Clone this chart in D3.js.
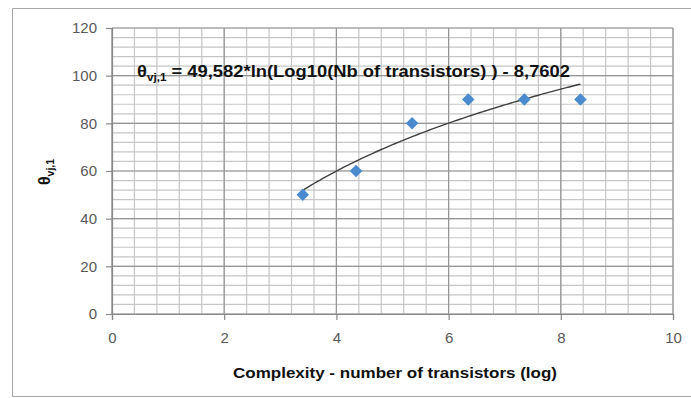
<!DOCTYPE html>
<html>
<head>
<meta charset="utf-8">
<script src="https://cdn.jsdelivr.net/npm/d3@7"></script>
<style>
  body { margin: 0; background: #fff; }
  text { font-family: "Liberation Sans", Arial, sans-serif; }
</style>
</head>
<body>
<svg id="chart" width="691" height="398"></svg>
<script>
  // data
  const xValues = [3.4, 4.35, 5.35, 6.35, 7.35, 8.35];
  const yValues = [50, 60, 80, 90, 90, 90];
  const xTicks = [0, 2, 4, 6, 8, 10];
  const yTicks = [0, 20, 40, 60, 80, 100, 120];
  // trendline coefficients as printed on the chart
  const trendA = 49.582, trendB = -8.7602;
  const trendRange = [3.4, 8.35];

  const svg = d3.select("#chart");
  const W = 691, H = 398;
  const plot = { left: 112, right: 673, top: 28, bottom: 314 };

  const x = d3.scaleLinear().domain([0, 10]).range([plot.left, plot.right]);
  const y = d3.scaleLinear().domain([0, 120]).range([plot.bottom, plot.top]);

  // outer frame
  svg.append("path")
    .attr("d", `M${W},8.5 H12.5 V${H - 1.5} H${W}`)
    .attr("fill", "none").attr("stroke", "#a6a6a6").attr("stroke-width", 1);

  // minor grid
  const grid = svg.append("g");
  d3.range(0, 10.01, 0.4).forEach(v => {
    grid.append("line")
      .attr("x1", x(v)).attr("x2", x(v)).attr("y1", plot.top).attr("y2", plot.bottom)
      .attr("stroke", "#c6c6c6").attr("stroke-width", 1.2);
  });
  d3.range(0, 120.01, 4).forEach(v => {
    grid.append("line")
      .attr("x1", plot.left).attr("x2", plot.right).attr("y1", y(v)).attr("y2", y(v))
      .attr("stroke", "#c6c6c6").attr("stroke-width", 1.2);
  });
  // major grid
  xTicks.forEach(v => {
    grid.append("line")
      .attr("x1", x(v)).attr("x2", x(v)).attr("y1", plot.top).attr("y2", plot.bottom)
      .attr("stroke", "#959595").attr("stroke-width", 1.2);
  });
  yTicks.forEach(v => {
    grid.append("line")
      .attr("x1", plot.left).attr("x2", plot.right).attr("y1", y(v)).attr("y2", y(v))
      .attr("stroke", "#959595").attr("stroke-width", 1.2);
  });

  // axes
  const xAxis = svg.append("g")
    .attr("transform", `translate(0,${plot.bottom})`)
    .call(d3.axisBottom(x).tickValues(xTicks).tickSize(6).tickPadding(12));
  const yAxis = svg.append("g")
    .attr("transform", `translate(${plot.left},0)`)
    .call(d3.axisLeft(y).tickValues(yTicks).tickSize(6).tickPadding(9));
  [xAxis, yAxis].forEach(a => {
    a.selectAll("path, line").attr("stroke", "#888").attr("stroke-width", 1.2);
    a.selectAll("text").attr("fill", "#595959").attr("font-size", 15);
  });

  // trendline
  const trendPts = d3.range(trendRange[0], trendRange[1] + 0.001, 0.05)
    .map(v => [v, trendA * Math.log(v) + trendB]);
  svg.append("path")
    .datum(trendPts)
    .attr("d", d3.line().x(d => x(d[0])).y(d => y(d[1])))
    .attr("fill", "none").attr("stroke", "#404040").attr("stroke-width", 1.4);

  // markers
  svg.append("g").selectAll("path")
    .data(xValues.map((v, i) => [v, yValues[i]]))
    .join("path")
    .attr("transform", d => `translate(${x(d[0])},${y(d[1])})`)
    .attr("d", d3.symbol(d3.symbolDiamond2, 100))
    .attr("fill", "#4a8bd0");

  // equation label
  const eq = svg.append("text")
    .attr("x", 137).attr("y", 77)
    .attr("textLength", 433).attr("lengthAdjust", "spacingAndGlyphs")
    .attr("font-size", 16.5).attr("font-weight", 700).attr("fill", "#111");
  eq.append("tspan").text("θ");
  eq.append("tspan").attr("font-size", 10.5).attr("dy", 4).text("vj,1");
  eq.append("tspan").attr("dy", -4).text(" = 49,582*ln(Log10(Nb of transistors) ) - 8,7602");

  // axis titles
  svg.append("text")
    .attr("x", 233).attr("y", 378)
    .attr("textLength", 324).attr("lengthAdjust", "spacingAndGlyphs")
    .attr("font-size", 15.5).attr("font-weight", 700).attr("fill", "#111")
    .text("Complexity - number of transistors (log)");

  const yt = svg.append("text")
    .attr("transform", "translate(50,172) rotate(-90)")
    .attr("text-anchor", "middle")
    .attr("font-size", 16).attr("font-weight", 700).attr("fill", "#111");
  yt.append("tspan").text("θ");
  yt.append("tspan").attr("font-size", 10.5).attr("dy", 4).text("vj,1");
</script>
</body>
</html>
